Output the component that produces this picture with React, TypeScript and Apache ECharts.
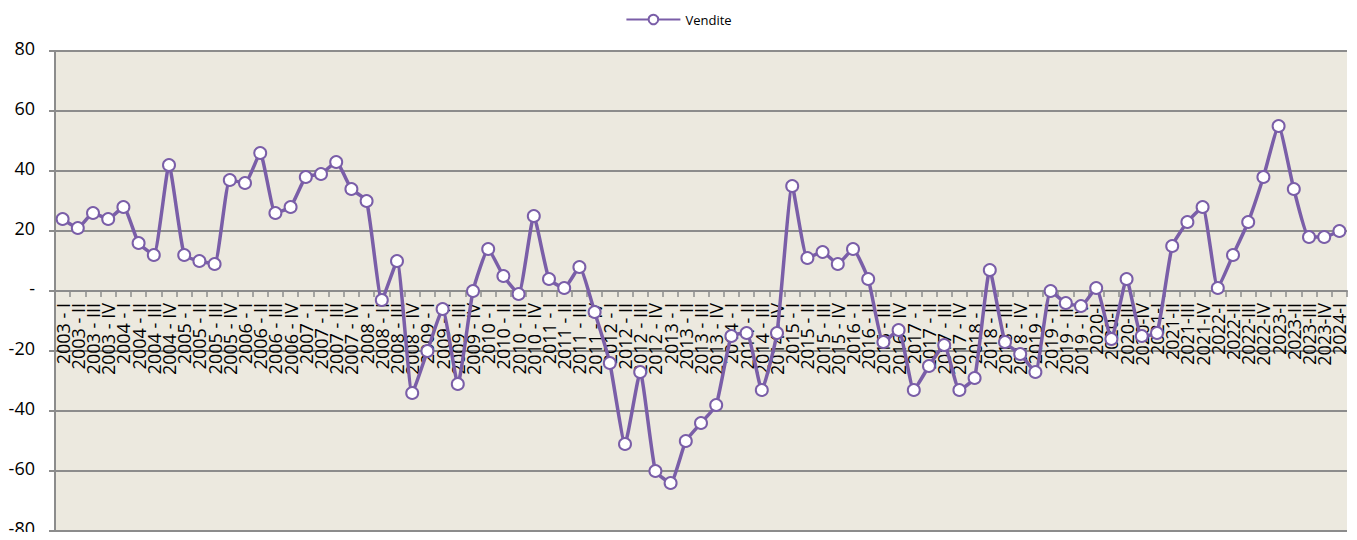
import React, { useEffect, useRef } from "react";
import * as echarts from "echarts";

const categories: string[] = [
  "2003 - I", "2003 - II", "2003 - III", "2003 - IV",
  "2004 - I", "2004 - II", "2004 - III", "2004 - IV",
  "2005 - I", "2005 - II", "2005 - III", "2005 - IV",
  "2006 - I", "2006 - II", "2006 - III", "2006 - IV",
  "2007 - I", "2007 - II", "2007 - III", "2007 - IV",
  "2008 - I", "2008 - II", "2008 - III", "2008 - IV",
  "2009 - I", "2009 - II", "2009 - III", "2009 - IV",
  "2010 - I", "2010 - II", "2010 - III", "2010 - IV",
  "2011 - I", "2011 - II", "2011 - III", "2011 - IV",
  "2012 - I", "2012 - II", "2012 - III", "2012 - IV",
  "2013 - I", "2013 - II", "2013 - III", "2013 - IV",
  "2014 - I", "2014 - II", "2014 - III", "2014 - IV",
  "2015 - I", "2015 - II", "2015 - III", "2015 - IV",
  "2016 - I", "2016 - II", "2016 - III", "2016 - IV",
  "2017 - I", "2017 - II", "2017 - III", "2017 - IV",
  "2018 - I", "2018 - II", "2018 - III", "2018 - IV",
  "2019 - I", "2019 - II", "2019 - III", "2019 - IV",
  "2020-I", "2020-II", "2020-III", "2020-IV",
  "2021-I", "2021-II", "2021-III", "2021-IV",
  "2022-I", "2022-II", "2022-III", "2022-IV",
  "2023-I", "2023-II", "2023-III", "2023-IV",
  "2024-I",
];

const vendite: number[] = [
  24, 21, 26, 24,
  28, 16, 12, 42,
  12, 10, 9, 37,
  36, 46, 26, 28,
  38, 39, 43, 34,
  30, -3, 10, -34,
  -20, -6, -31, 0,
  14, 5, -1, 25,
  4, 1, 8, -7,
  -24, -51, -27, -60,
  -64, -50, -44, -38,
  -15, -14, -33, -14,
  35, 11, 13, 9,
  14, 4, -17, -13,
  -33, -25, -18, -33,
  -29, 7, -17, -21,
  -27, 0, -4, -5,
  1, -16, 4, -15,
  -14, 15, 23, 28,
  1, 12, 23, 38,
  55, 34, 18, 18,
  20,
];

const seriesName = "Vendite";
const yMin = -80;
const yMax = 80;
const yStep = 20;

export default function App() {
  const ref = useRef<HTMLDivElement>(null);
  useEffect(() => {
    if (!ref.current) return;
    const chart = echarts.init(ref.current, null, { renderer: "svg" });
    const purple = "#7A5EA8";
    const gridColor = "#8C8C8C";
    const gridTop = 51;
    const gridBottom = 9;
    const plotH = 540 - gridTop - gridBottom;
    // move the category axis up to where the value 0 sits
    const zeroOffset = -plotH * ((0 - yMin) / (yMax - yMin));
    chart.setOption({
      animation: false,
      backgroundColor: "#FFFFFF",
      textStyle: { fontFamily: "Open Sans" },
      legend: {
        top: 8,
        left: "center",
        itemWidth: 54,
        itemHeight: 12,
        itemGap: 6,
        textStyle: { fontFamily: "Open Sans", fontSize: 13, color: "#000" },
        data: [seriesName],
      },
      grid: {
        left: 55,
        right: 10,
        top: gridTop,
        bottom: gridBottom,
        show: true,
        backgroundColor: "#ECE9DF",
        borderWidth: 0,
        containLabel: false,
        outerBoundsMode: "none",
      },
      xAxis: {
        type: "category",
        data: categories,
        boundaryGap: true,
        position: "bottom",
        offset: zeroOffset,
        axisLine: { onZero: false, lineStyle: { color: gridColor, width: 2 } },
        axisTick: { show: true, interval: 0, length: 6, lineStyle: { color: gridColor, width: 1.5 } },
        axisLabel: {
          interval: 0,
          rotate: 90,
          margin: 12,
          hideOverlap: false,
          fontFamily: "Open Sans",
          fontSize: 18,
          lineHeight: 15,
          color: "#000",
        },
        splitLine: { show: false },
      },
      yAxis: {
        type: "value",
        min: yMin,
        max: yMax,
        interval: yStep,
        axisLine: { show: true, lineStyle: { color: gridColor, width: 2 } },
        axisTick: { show: true, length: 6, lineStyle: { color: gridColor, width: 2 } },
        axisLabel: {
          margin: 20,
          color: "#000",
          formatter: (v: number) => `{v|${v === 0 ? "-" : String(v)}}`,
          rich: {
            v: {
              fontFamily: "Open Sans",
              fontSize: 18,
              lineHeight: 14,
              height: 14,
              color: "#000",
              padding: [0, 0, 6, 0],
            },
          },
        },
        splitLine: { show: true, lineStyle: { color: gridColor, width: 2 } },
      },
      series: [
        {
          name: seriesName,
          type: "line",
          data: vendite,
          smooth: 0.15,
          symbol: "circle",
          symbolSize: 12,
          showAllSymbol: true,
          lineStyle: { color: purple, width: 3.5 },
          itemStyle: { color: "#FFFFFF", borderColor: purple, borderWidth: 2 },
          z: 3,
        },
      ],
    });
    return () => chart.dispose();
  }, []);
  return <div ref={ref} style={{ width: 1357, height: 540, margin: -8 }} />;
}
